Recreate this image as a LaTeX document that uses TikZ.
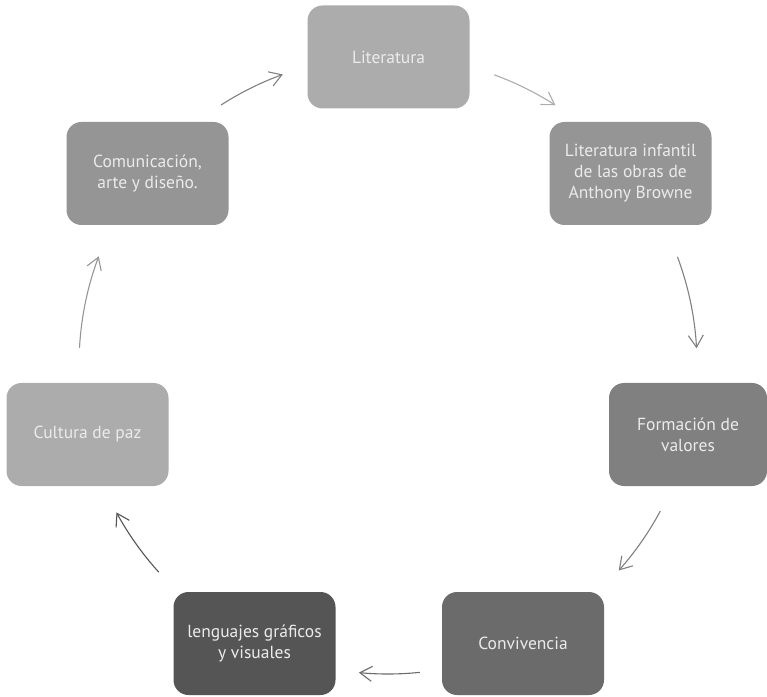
\documentclass[tikz,border=0pt]{standalone}
\usepackage{fontspec}
\setmainfont{PT Sans}
\usetikzlibrary{arrows.meta}
\definecolor{cLit}{HTML}{ACACAC}
\definecolor{cInf}{HTML}{959595}
\definecolor{cForm}{HTML}{808080}
\definecolor{cConv}{HTML}{6B6B6B}
\definecolor{cLeng}{HTML}{555555}
\definecolor{cTxt}{HTML}{EBEBEB}
\tikzset{
  box/.style={rectangle, rounded corners=15pt, minimum width=162pt, minimum height=103pt,
    inner sep=0pt, align=center, text=cTxt, font=\fontsize{17.5pt}{21pt}\selectfont},
  arr/.style={line width=1.1pt, -{Straight Barb[length=12pt,width=15pt,line width=1.1pt]}}
}
\begin{document}
\begin{tikzpicture}[x=1pt,y=1pt]
\useasboundingbox (0,0) rectangle (767,696);
\coordinate (ctr) at (388,331);
\node[box, fill=cLit] (lit) at (388.5,639) {Literatura};
\node[box, fill=cInf] (inf) at (630.5,522.5) {Literatura infantil\\de las obras de\\Anthony Browne};
\node[box, fill=cForm, minimum width=158pt] (form) at (688,261.5) {Formación de\\valores};
\node[box, fill=cConv] (conv) at (523,52.5) {Convivencia};
\node[box, fill=cLeng] (leng) at (254.5,52.5) {lenguajes gráficos\\y visuales};
\node[box, fill=cLit] (cult) at (87.5,261.5) {Cultura de paz};
\node[box, fill=cInf] (com) at (147.5,522.5) {Comunicación,\\arte y diseño.};
% arrows along the cycle circle
\draw[arr, draw=cLit] ([shift={(69.9:309)}]ctr) arc[start angle=69.9, end angle=57.2, radius=309];
\draw[arr, draw=cForm] ([shift={(20.5:309)}]ctr) arc[start angle=20.5, end angle=3.1, radius=309];
\draw[arr, draw=cForm] ([shift={(-28.2:309)}]ctr) arc[start angle=-28.2, end angle=-41.7, radius=309];
\draw[arr, draw=cConv] ([shift={(-84.1:309)}]ctr) arc[start angle=-84.1, end angle=-95.4, radius=309];
\draw[arr, draw=cLeng] ([shift={(-137.9:309)}]ctr) arc[start angle=-137.9, end angle=-151.5, radius=309];
\draw[arr, draw=cInf] ([shift={(176.8:309)}]ctr) arc[start angle=176.8, end angle=159.4, radius=309];
\draw[arr, draw=cForm] ([shift={(122.7:309)}]ctr) arc[start angle=122.7, end angle=109.9, radius=309];
\end{tikzpicture}
\end{document}
